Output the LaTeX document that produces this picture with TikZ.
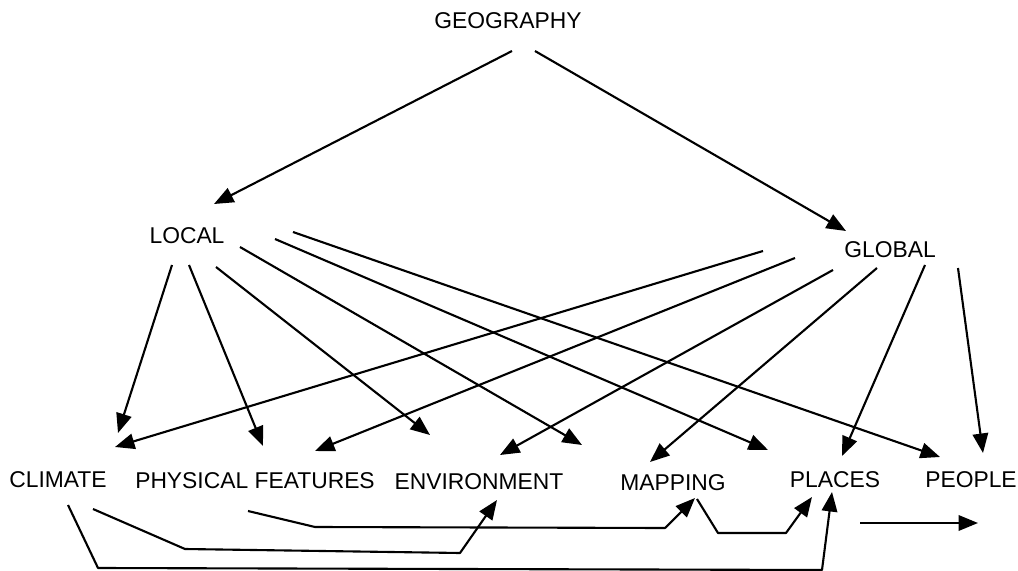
\documentclass[tikz,border=0pt]{standalone}
\usepackage{fontspec}
\setmainfont{Liberation Sans}
\usetikzlibrary{arrows.meta}
\begin{document}
\begin{tikzpicture}[x=0.02cm, y=-0.02cm, line width=1.2pt, line join=round, >={Triangle[length=3.9mm,width=3.1mm]},
    lbl/.style={font=\fontsize{13}{15}\selectfont, inner sep=0pt}]
    \useasboundingbox (0,0) rectangle (1018,571);
    \node[lbl] (geo) at (508,21) {GEOGRAPHY};
    \node[lbl] (local) at (187,236) {LOCAL};
    \node[lbl] (global) at (890,250) {GLOBAL};
    \node[lbl] (climate) at (58,480) {CLIMATE};
    \node[lbl] (phys) at (255,481) {PHYSICAL FEATURES};
    \node[lbl] (env) at (479,482) {ENVIRONMENT};
    \node[lbl] (map) at (673,483) {MAPPING};
    \node[lbl] (places) at (835,480) {PLACES};
    \node[lbl] (people) at (971,480) {PEOPLE};
    % top level
    \draw[->] ([shift={(4,30)}]geo.center) -- ([shift={(27,-32)}]local.center);
    \draw[->] ([shift={(27,30)}]geo.center) -- ([shift={(-44,-19)}]global.center);
    % local
    \foreach \sx/\sy/\n/\ex/\ey in {-15/29/climate/60/-47, 2/29/phys/8/-35, 29/31/env/-49/-47,
        53/11/map/-91/-38, 88/3/places/-67/-30, 106/-4/people/-31/-23}
        \draw[->] ([shift={(\sx,\sy)}]local.center) -- ([shift={(\ex,\ey)}]\n.center);
    % global
    \foreach \sx/\sy/\n/\ex/\ey in {-127/1/climate/57/-33, -95/8/phys/60/-30, -57/20/env/21/-27,
        -13/18/map/-23/-21, 35/15/places/7/-24, 68/18/people/12/-27}
        \draw[->] ([shift={(\sx,\sy)}]global.center) -- ([shift={(\ex,\ey)}]\n.center);
    % bottom links
    \draw[->] ([shift={(35,29)}]climate.center) -- (185,549) -- (460,553) -- ([shift={(18,18)}]env.center);
    \draw[->] ([shift={(-7,30)}]phys.center) -- (315,527) -- (665,528) -- ([shift={(22,15)}]map.center);
    \draw[->] ([shift={(24,16)}]map.center) -- (718,533) -- (786,533) -- ([shift={(-23,17)}]places.center);
    \draw[->] ([shift={(10,25)}]climate.center) -- (98,568) -- (822,570) -- ([shift={(-3,12)}]places.center);
    \coordinate (fa) at (860,523);
    \coordinate (fb) at (978,523);
    \draw[->] (fa) -- (fb);
\end{tikzpicture}
\end{document}
